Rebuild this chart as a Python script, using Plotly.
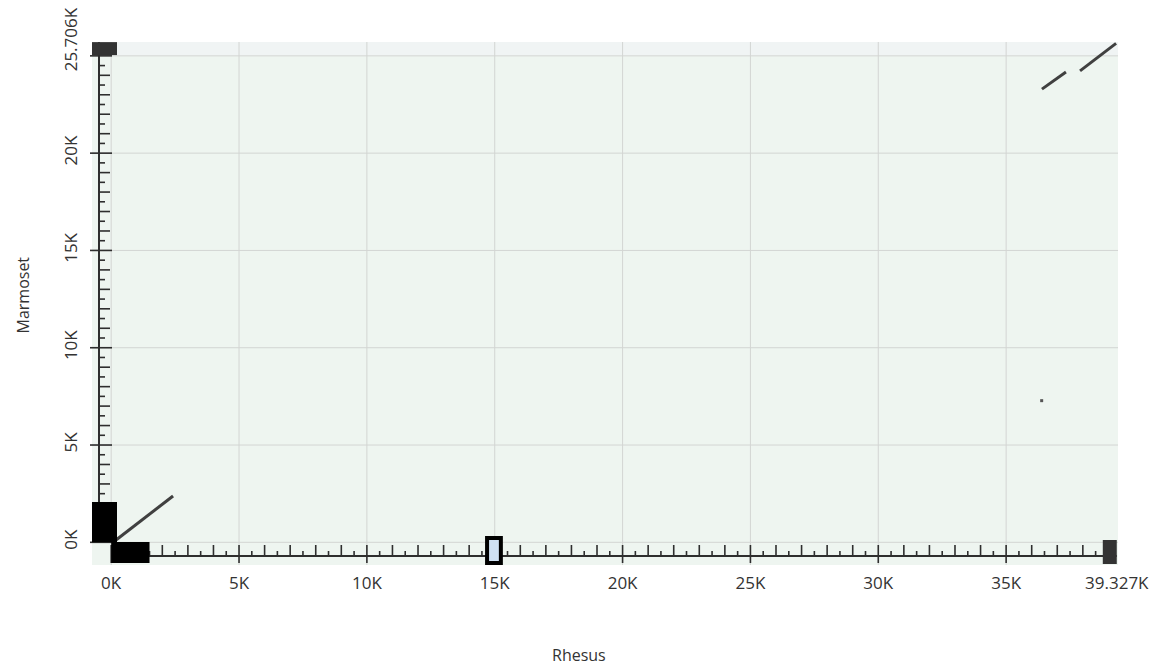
import numpy as np
import plotly.graph_objects as go

# ---- data -------------------------------------------------------------
x_total = 39327          # Rhesus sequence length (bp)
y_total = 25706          # Marmoset sequence length (bp)

# alignment segments (start/end in each genome)
seg_x_start = [190, 36400, 37890]
seg_x_end = [2420, 37340, 39300]
seg_y_start = [120, 23290, 24230]
seg_y_end = [2380, 24170, 25640]

# isolated short hit
dot_x = [36390]
dot_y = [7280]

# features along the Rhesus axis
x_feat_start = [0, 38780]
x_feat_end = [1500, 39327]
x_feat_color = ["#000000", "#333333"]

# features along the Marmoset axis
y_feat_start = [0, 25040]
y_feat_end = [2070, 25706]
y_feat_color = ["#000000", "#333333"]

# selected region on the Rhesus axis
sel_start = [14700]
sel_end = [15240]

x_tick_vals = [0, 5000, 10000, 15000, 20000, 25000, 30000, 35000, 39327]
x_tick_text = ["0K", "5K", "10K", "15K", "20K", "25K", "30K", "35K", "39.327K"]
y_tick_vals = [0, 5000, 10000, 15000, 20000, 25706]
y_tick_text = ["0K", "5K", "10K", "15K", "20K", "25.706K"]
grid_x = [0, 5000, 10000, 15000, 20000, 25000, 30000, 35000]
grid_y = [0, 5000, 10000, 15000, 20000, 25000]

FONT = "Open Sans"
LINE_COL = "#404040"
RULER_COL = "#2e2e2e"
GRID_COL = "#d3d5d3"

fig = go.Figure()

# alignment segments
for xs, xe, ys, ye in zip(seg_x_start, seg_x_end, seg_y_start, seg_y_end):
    fig.add_trace(go.Scatter(x=[xs, xe], y=[ys, ye], mode="lines",
                             line=dict(color=LINE_COL, width=3),
                             hoverinfo="skip", showlegend=False))

fig.add_trace(go.Scatter(x=dot_x, y=dot_y, mode="markers",
                         marker=dict(symbol="square", size=3, color="#555555"),
                         hoverinfo="skip", showlegend=False))

shapes = []

# lighter band above the last full gridline
shapes.append(dict(type="rect", xref="paper", yref="y", x0=0, x1=1,
                   y0=grid_y[-1], y1=y_total, fillcolor="#f0f4f4",
                   line=dict(width=0), layer="below"))

# grid
for gx in grid_x:
    shapes.append(dict(type="line", xref="x", yref="paper", x0=gx, x1=gx,
                       y0=0, y1=1, line=dict(color=GRID_COL, width=1), layer="below"))
for gy in grid_y:
    shapes.append(dict(type="line", xref="paper", yref="y", x0=0, x1=1,
                       y0=gy, y1=gy, line=dict(color=GRID_COL, width=1), layer="below"))

# Rhesus ruler (horizontal, near the bottom edge)
shapes.append(dict(type="line", xref="x", yref="paper", ysizemode="pixel", yanchor=0,
                   x0=0, x1=x_total, y0=9, y1=9, line=dict(color=RULER_COL, width=2)))
for t in np.arange(0, x_total, 500):
    k = int(t // 500)
    if k % 10 == 0:
        y0, y1 = 2, 20
    elif k % 2 == 0:
        y0, y1 = 9, 20
    else:
        y0, y1 = 9, 14
    shapes.append(dict(type="line", xref="x", yref="paper", ysizemode="pixel", yanchor=0,
                       x0=t, x1=t, y0=y0, y1=y1, line=dict(color=RULER_COL, width=1.6)))

# Marmoset ruler (vertical, near the left edge)
shapes.append(dict(type="line", xref="paper", yref="y", xsizemode="pixel", xanchor=0,
                   x0=7, x1=7, y0=0, y1=y_total, line=dict(color=RULER_COL, width=2)))
for t in np.arange(0, y_total, 500):
    k = int(t // 500)
    if k % 10 == 0:
        x0, x1 = -2, 20
    elif k % 2 == 0:
        x0, x1 = 7, 18
    else:
        x0, x1 = 7, 13
    shapes.append(dict(type="line", xref="paper", yref="y", xsizemode="pixel", xanchor=0,
                       x0=x0, x1=x1, y0=t, y1=t, line=dict(color=RULER_COL, width=1.6)))

# features on the axes
for s, e, c in zip(x_feat_start, x_feat_end, x_feat_color):
    top = 25 if c != "#000000" else 23
    bot = 1 if c != "#000000" else 2
    shapes.append(dict(type="rect", xref="x", yref="paper", ysizemode="pixel", yanchor=0,
                       x0=s, x1=e, y0=bot, y1=top, fillcolor=c, line=dict(width=0)))
for s, e, c in zip(y_feat_start, y_feat_end, y_feat_color):
    shapes.append(dict(type="rect", xref="paper", yref="y", xsizemode="pixel", xanchor=0,
                       x0=0, x1=25, y0=s, y1=e, fillcolor=c, line=dict(width=0)))

# selection box
for s, e in zip(sel_start, sel_end):
    shapes.append(dict(type="rect", xref="x", yref="paper", ysizemode="pixel", yanchor=0,
                       x0=s, x1=e, y0=2, y1=27, fillcolor="#cfe1f3",
                       line=dict(color="#000000", width=4)))

fig.update_layout(
    width=1159, height=669,
    margin=dict(l=92, r=41, t=42, b=104),
    paper_bgcolor="#ffffff",
    plot_bgcolor="#eef5f0",
    shapes=shapes,
    font=dict(family=FONT, color="#333333"),
    xaxis=dict(range=[-750, 39375], showgrid=False, zeroline=False, showline=False,
               automargin=False,
               tickmode="array", tickvals=x_tick_vals, ticktext=x_tick_text,
               ticks="", tickfont=dict(size=17, color="#333333"), ticklabelstandoff=6),
    yaxis=dict(range=[-1166, 25712], showgrid=False, zeroline=False, showline=False,
               automargin=False,
               tickmode="array", tickvals=y_tick_vals, ticktext=y_tick_text,
               ticks="", tickangle=-90, tickfont=dict(size=17, color="#333333"),
               ticklabelstandoff=11),
    annotations=[
        dict(text="Rhesus", xref="paper", yref="paper", x=0.475, y=0, yshift=-90,
             xanchor="center", yanchor="middle", showarrow=False,
             font=dict(size=16, color="#333333")),
        dict(text="Marmoset", xref="paper", yref="paper", x=0, y=0.5, xshift=-70,
             yshift=8, xanchor="center", yanchor="middle", textangle=-90,
             showarrow=False, font=dict(size=16, color="#333333")),
    ],
)

fig.write_html("out.html")
